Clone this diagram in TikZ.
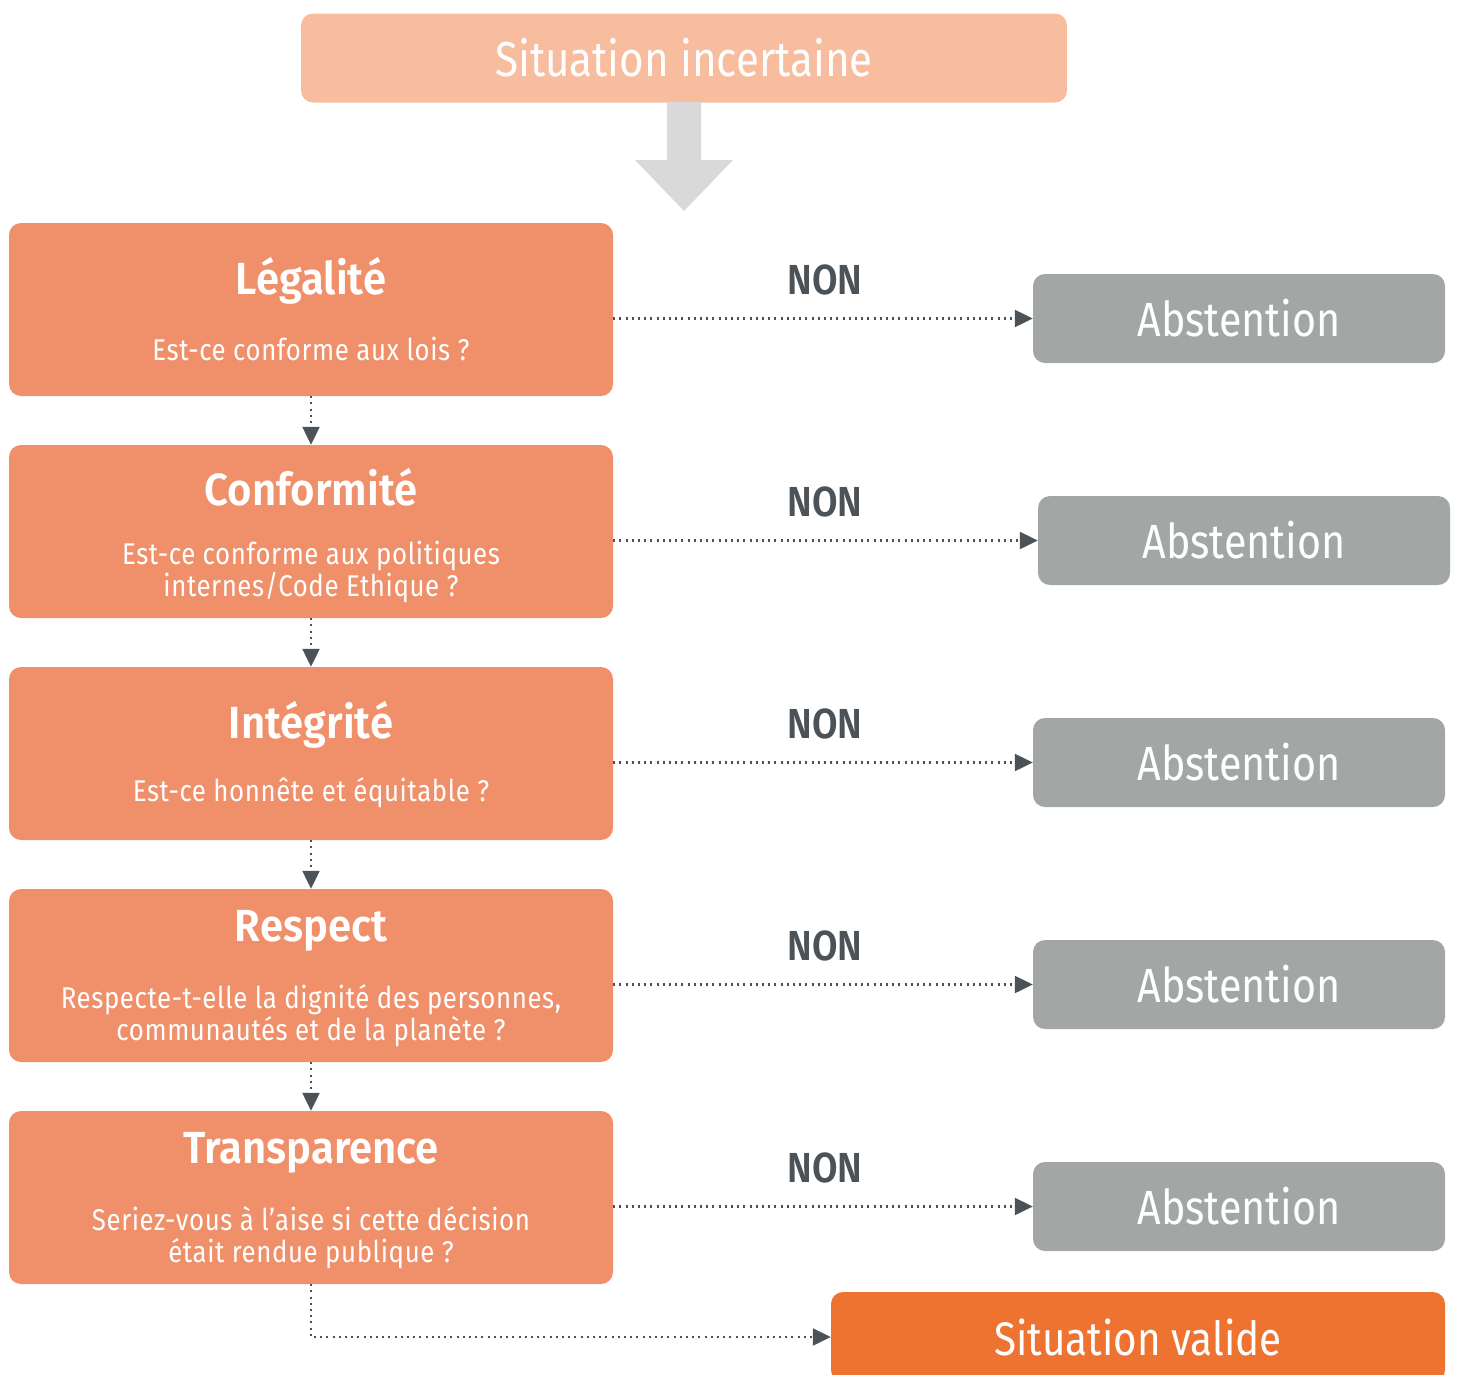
\documentclass[tikz,border=0pt]{standalone}
\usepackage{fontspec}
\setmainfont{Fira Sans}[FakeStretch=0.86]
\newfontfamily\questionfont{Fira Sans}[FakeStretch=0.86,LetterSpace=2]
\newfontfamily\titrefont{Fira Sans SemiBold}[FakeStretch=0.93]
\newfontfamily\nonfont{Fira Sans SemiBold}[FakeStretch=0.88]
\usetikzlibrary{arrows.meta}
\definecolor{peche}{HTML}{F8BC9F}
\definecolor{saumon}{HTML}{F0906A}
\definecolor{gris}{HTML}{A2A7A6}
\definecolor{orangevif}{HTML}{EE7330}
\definecolor{ardoise}{HTML}{4B5258}
\definecolor{grisclair}{HTML}{D9D9D9}
\tikzset{
    boite/.style={rounded corners=12pt,inner sep=0pt,text=white},
    critere/.style={boite,fill=saumon,minimum width=604pt,minimum height=173pt},
    abstention/.style={boite,fill=gris,minimum width=412pt,minimum height=89pt,font=\fontsize{48}{48}\selectfont},
    titre/.style={text=white,inner sep=0pt,font=\fontsize{45}{45}\selectfont\titrefont},
    question/.style={text=white,inner sep=0pt,align=center,font=\fontsize{30}{32}\selectfont\questionfont},
    non/.style={text=ardoise,inner sep=0pt,font=\fontsize{42}{42}\selectfont\nonfont},
    flow/.style={draw=ardoise,line width=2.2pt,dash pattern=on 2pt off 4.2pt,
        -{Triangle[length=18pt,width=17pt]}}
}
\begin{document}
\begin{tikzpicture}[x=1pt,y=-1pt]
\useasboundingbox (0,0) rectangle (1458,1374);
% situation de depart
\node[boite,fill=peche,minimum width=766pt,minimum height=89pt,font=\fontsize{49}{49}\selectfont] (depart) at (684,58) {Situation incertaine};
\fill[grisclair] (667,102)--(701,102)--(701,160)--(733,160)--(684,211)--(635,160)--(667,160)--cycle;
% les cinq criteres
\node[critere] (leg) at (311,309.5) {};
\node[critere] (conf) at (311,531.5) {};
\node[critere] (integ) at (311,753.5) {};
\node[critere] (resp) at (311,975.5) {};
\node[critere] (trans) at (311,1197.5) {};
\node[titre] (legT) at (311,281) {Légalité};
\node[question] (legQ) at (311,349) {Est-ce conforme aux lois ?};
\node[titre] (confT) at (311,487) {Conformité};
\node[question] (confQ) at (311,572) {Est-ce conforme aux politiques\\internes/Code Ethique ?};
\node[titre] (integT) at (311,725) {Intégrité};
\node[question] (integQ) at (311,793) {Est-ce honnête et équitable ?};
\node[titre] (respT) at (311,931) {Respect};
\node[question] (respQ) at (311,1016) {Respecte-t-elle la dignité des personnes,\\communautés et de la planète ?};
\node[titre] (transT) at (311,1153) {Transparence};
\node[question] (transQ) at (311,1238) {Seriez-vous à l’aise si cette décision\\était rendue publique ?};
% abstentions
\node[abstention] (abs1) at (1239,318.5) {Abstention};
\node[abstention] (abs2) at (1244,540.5) {Abstention};
\node[abstention] (abs3) at (1239,762.5) {Abstention};
\node[abstention] (abs4) at (1239,984.5) {Abstention};
\node[abstention] (abs5) at (1239,1206.5) {Abstention};
\node[non] (non1) at (825,280) {NON};
\node[non] (non2) at (825,502) {NON};
\node[non] (non3) at (825,724) {NON};
\node[non] (non4) at (825,946) {NON};
\node[non] (non5) at (825,1168) {NON};
% fin
\node[boite,fill=orangevif,minimum width=614pt,minimum height=90pt,font=\fontsize{47}{47}\selectfont] (valide) at (1138,1337) {Situation valide};
% liaisons
\draw[flow] (leg.south) -- (conf.north);
\draw[flow] (conf.south) -- (integ.north);
\draw[flow] (integ.south) -- (resp.north);
\draw[flow] (resp.south) -- (trans.north);
\draw[flow] (trans.south) |- (valide.west);
\draw[flow] (leg.east |- abs1.west) -- (abs1.west);
\draw[flow] (conf.east |- abs2.west) -- (abs2.west);
\draw[flow] (integ.east |- abs3.west) -- (abs3.west);
\draw[flow] (resp.east |- abs4.west) -- (abs4.west);
\draw[flow] (trans.east |- abs5.west) -- (abs5.west);
\end{tikzpicture}
\end{document}
